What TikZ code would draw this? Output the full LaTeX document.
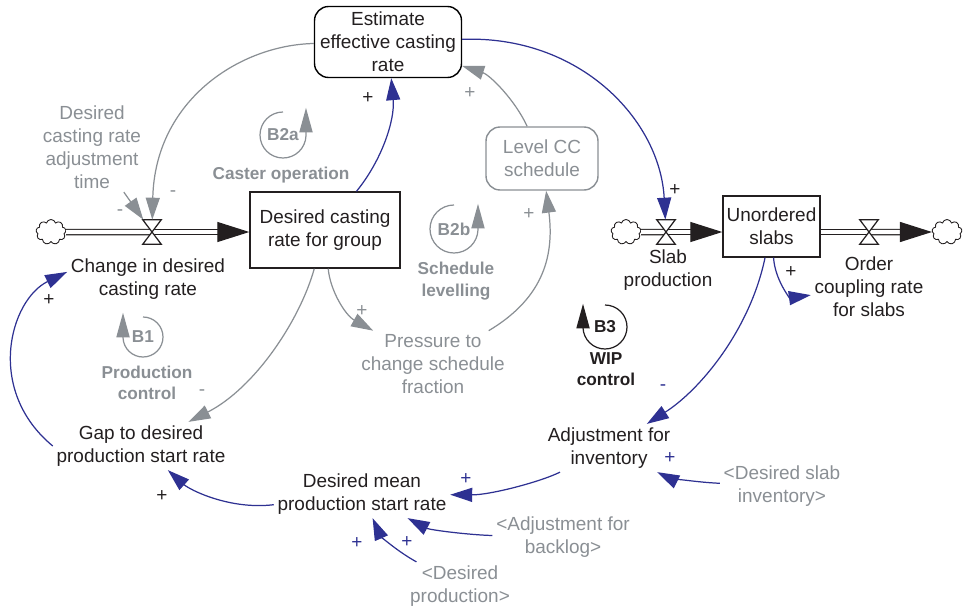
\documentclass[tikz,border=0pt]{standalone}
\usepackage{fontspec}
\setmainfont{Liberation Sans}
\usepackage{tikz}
\usetikzlibrary{calc}
\usetikzlibrary{arrows.meta,shapes.symbols}

\definecolor{vblue}{RGB}{46,49,146}
\definecolor{vgray}{RGB}{138,143,148}
\definecolor{vblack}{RGB}{35,31,32}

\begin{document}
\begin{tikzpicture}[x=0.02cm,y=0.02cm,
  every node/.style={font=\fontsize{10.8}{13}\selectfont,align=center,text=vblack,inner sep=2pt},
  shadow/.style={text=vgray},
  stock/.style={draw=vblack,line width=0.8pt},
  rbox/.style={draw,line width=0.8pt,rounded corners=0.28cm},
  sgn/.style={inner sep=0pt},
  infl/.style={line width=0.7pt,-{Triangle[length=12.5pt,width=8pt]}},
  ib/.style={infl,draw=vblue},
  ig/.style={infl,draw=vgray},
  pipe/.style={draw=vblack,double=white,line width=0.7pt,double distance=2.3pt},
  flowtip/.style={-{Triangle[length=0.64cm,width=0.4cm]}},
  vbox/.style={inner sep=0pt,minimum width=0.36cm,minimum height=0.48cm},
  valve/.style={draw=vblack,fill=white,line width=0.7pt},
  cld/.style={cloud,cloud puffs=9,draw=vblack,line width=0.5pt,minimum width=0.6cm,minimum height=0.5cm,inner sep=0pt},
  loopb/.style={line width=0.7pt,-{Triangle[length=14pt,width=7.5pt]}},
  looplbl/.style={font=\fontsize{9.8}{12.3}\selectfont\bfseries}]

  \useasboundingbox (0,0) rectangle (972,-608);

  % stocks and auxiliaries
  \node[rbox,minimum width=2.94cm,minimum height=1.42cm] (est) at (388,-42) {Estimate\\effective casting\\rate};
  \node[stock,minimum width=3cm,minimum height=1.52cm] (dcr) at (325,-230) {Desired casting\\rate for group};
  \node[stock,minimum width=1.94cm,minimum height=1.22cm] (uns) at (771.5,-226.5) {Unordered\\slabs};
  \node[rbox,draw=vgray,shadow,minimum width=2.24cm,minimum height=1.26cm] (lcc) at (542,-158.5) {Level CC\\schedule};
  \node[shadow] (dcrat) at (92,-147) {Desired\\casting rate\\adjustment\\time};
  \node[shadow] (pcs) at (433,-364) {Pressure to\\change schedule\\fraction};
  \node (gap) at (141,-446) {Gap to desired\\production start rate};
  \node (dmp) at (362,-494) {Desired mean\\production start rate};
  \node (adj) at (609,-448) {Adjustment for\\inventory};
  \node[shadow] (dsi) at (782,-486) {<Desired slab\\inventory>};
  \node[shadow] (afb) at (563,-537) {<Adjustment for\\backlog>};
  \node[shadow] (dp) at (460,-586) {<Desired\\production>};

  % flows
  \node[cld] (c1) at (51,-232) {};
  \node[cld] (c2) at (626,-232) {};
  \node[cld] (c3) at (947,-232) {};
  \node[vbox] (v1) at (152,-232) {};
  \node[vbox] (v2) at (666,-232) {};
  \node[vbox] (v3) at (869,-232) {};
  \node (chg) at (148,-279) {Change in desired\\casting rate};
  \node (spr) at (668,-270) {Slab\\production};
  \node (ocr) at (869,-287) {Order\\coupling rate\\for slabs};

  \draw[pipe] (c1) -- (v1.center);
  \draw[pipe,flowtip] (v1.center) -- (c1 -| dcr.west);
  \draw[pipe] (c2) -- (v2.center);
  \draw[pipe,flowtip] (v2.center) -- (c2 -| uns.west);
  \draw[pipe] (c3 -| uns.east) -- (v3.center);
  \draw[pipe,flowtip] (v3.center) -- (c3);
  \draw[valve] (v1.north west) -- (v1.north east) -- (v1.south west) -- (v1.south east) -- cycle;
  \draw[valve] (v2.north west) -- (v2.north east) -- (v2.south west) -- (v2.south east) -- cycle;
  \draw[valve] (v3.north west) -- (v3.north east) -- (v3.south west) -- (v3.south east) -- cycle;

  % links
  \draw[ig] (est) .. controls (240,-45) and (155,-100) .. (v1);
  \draw[ig] (dcrat) -- (v1);
  \draw[ib] (dcr) .. controls (382,-160) and (395,-120) .. (est);
  \draw[ig] (lcc) .. controls (515,-100) and (490,-75) .. (est);
  \draw[ib] (est) .. controls (580,-35) and (660,-120) .. (v2);
  \draw[ig] (dcr) .. controls (300,-320) and (255,-388) .. (gap);
  \draw[ig] (dcr) .. controls (330,-290) and (345,-315) .. (pcs);
  \draw[ig] (pcs) .. controls (540,-300) and (555,-260) .. (lcc);
  \draw[ib] (gap.west) .. controls (-15,-390) and (10,-300) .. (chg.175);
  \draw[ib] (dmp) .. controls (230,-510) and (190,-490) .. (gap);
  \draw[ib] (uns) .. controls (750,-330) and (700,-390) .. (adj);
  \draw[ib] (uns) .. controls (775,-280) and (790,-298) .. (ocr);
  \draw[ib] (adj) .. controls (540,-482) and (490,-495) .. (dmp);
  \draw[ib] (dsi) .. controls (690,-482) and (665,-476) .. (adj);
  \draw[ib] (afb) .. controls (470,-535) and (430,-530) .. (dmp);
  \draw[ib] (dp) .. controls (395,-550) and (380,-535) .. (dmp);

  % polarities
  \node[sgn,text=vgray] (s1) at (120,-213) {-};
  \node[sgn,text=vgray] (s2) at (173,-194) {-};
  \node[sgn] (s3) at (368,-98) {+};
  \node[sgn,text=vgray] (s4) at (470,-93) {+};
  \node[sgn] (s5) at (675,-190) {+};
  \node[sgn,text=vgray] (s6) at (529,-214) {+};
  \node[sgn,text=vgray] (s7) at (362,-311) {+};
  \node[sgn,text=vgray] (s8) at (202,-393) {-};
  \node[sgn] (s9) at (49,-300) {+};
  \node[sgn] (s10) at (162,-496) {+};
  \node[sgn] (s11) at (791,-272) {+};
  \node[sgn,text=vblue] (s12) at (663,-388) {-};
  \node[sgn,text=vblue] (s13) at (670,-458) {+};
  \node[sgn,text=vblue] (s14) at (466,-479) {+};
  \node[sgn,text=vblue] (s15) at (357,-543) {+};
  \node[sgn,text=vblue] (s16) at (407,-542) {+};

  % loops
  \node[looplbl,text=vgray] (b2a) at (283,-135) {B2a};
  \draw[loopb,draw=vgray] (283,-112) arc (90:358:23) -- ++(0,28);
  \node[looplbl,text=vgray] (b2al) at (281,-175) {Caster operation};
  \node[looplbl,text=vgray] (b2b) at (454,-229) {B2b};
  \draw[loopb,draw=vgray] (454,-205) arc (90:358:24) -- ++(0,26);
  \node[looplbl,text=vgray] (b2bl) at (456,-281) {Schedule\\levelling};
  \node[looplbl,text=vgray] (b1) at (143,-337) {B1};
  \draw[loopb,draw=vgray] (143,-317) arc (90:-178:20) -- ++(0,25);
  \node[looplbl,text=vgray] (b1l) at (147,-383) {Production\\control};
  \node[looplbl] (b3) at (605,-327) {B3};
  \draw[loopb,draw=vblack] (605,-305) arc (90:-178:22) -- ++(0,24);
  \node[looplbl] (b3l) at (606,-369) {WIP\\control};
\end{tikzpicture}
\end{document}
